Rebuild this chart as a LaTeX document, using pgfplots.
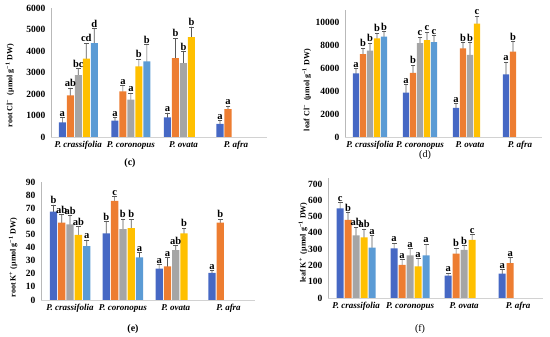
\documentclass[border=0pt]{standalone}
\usepackage{pgfplots}
\usepackage{pgfplotstable}
\pgfplotsset{compat=1.18}
\usepackage{fontspec}
\setmainfont{Liberation Serif}

\definecolor{s1}{HTML}{4668C4}
\definecolor{s2}{HTML}{ED7D31}
\definecolor{s3}{HTML}{A5A5A5}
\definecolor{s4}{HTML}{FFC000}
\definecolor{s5}{HTML}{5B9BD5}
\definecolor{errc}{HTML}{595959}

% one table per panel and series: group, value, error, top (value+error), letter
% ---- (c) root Cl-
\pgfplotstableread{
g y e t l
0 680 220 900 a
1 760 155 915 a
2 915 205 1120 a
3 605 155 760 a
}\cA
\pgfplotstableread{
g y e t l
0 1940 340 2280 ab
1 2120 280 2400 a
2 3670 930 4600 b
3 1300 130 1430 a
}\cB
\pgfplotstableread{
g y e t l
0 2880 310 3190 bc
1 1740 310 2050 a
2 3440 540 3980 b
}\cC
\pgfplotstableread{
g y e t l
0 3640 730 4370 cd
1 3290 330 3620 b
2 4640 480 5120 b
}\cD
\pgfplotstableread{
g y e t l
0 4370 670 5040 d
1 3520 770 4290 b
}\cE
% ---- (d) leaf Cl-
\pgfplotstableread{
g y e t l
0 5540 410 5950 a
1 3850 730 4580 a
2 2540 375 2915 a
3 5450 1080 6530 a
}\dA
\pgfplotstableread{
g y e t l
0 7200 530 7730 b
1 5570 670 6240 b
2 7700 520 8220 b
3 7430 880 8310 b
}\dB
\pgfplotstableread{
g y e t l
0 7520 640 8160 b
1 8160 530 8690 c
2 7140 1080 8220 b
}\dC
\pgfplotstableread{
g y e t l
0 8570 470 9040 b
1 8430 695 9125 c
2 9850 650 10500 c
}\dD
\pgfplotstableread{
g y e t l
0 8720 460 9180 b
1 8250 580 8830 c
}\dE
% ---- (e) root K+
\pgfplotstableread{
g y e t l
0 67.4 5.1 72.5 b
1 50.9 9.0 59.9 b
2 23.9 3.1 27.0 a
3 20.6 2.0 22.6 a
}\eA
\pgfplotstableread{
g y e t l
0 59.1 5.9 65.0 ab
1 75.6 3.3 78.9 c
2 25.7 6.7 32.4 a
3 59.1 2.6 61.7 b
}\eB
\pgfplotstableread{
g y e t l
0 57.6 6.7 64.3 ab
1 54.0 7.7 61.7 b
2 38.0 3.6 41.6 ab
}\eC
\pgfplotstableread{
g y e t l
0 49.6 6.4 56.0 ab
1 54.8 6.9 61.7 b
2 50.9 3.9 54.8 b
}\eD
\pgfplotstableread{
g y e t l
0 41.1 4.7 45.8 a
1 32.6 3.4 36.0 a
}\eE
% ---- (f) leaf K+
\pgfplotstableread{
g y e t l
0 551 37 588 c
1 304 33 337 a
2 137 16 153 a
3 149 27 176 a
}\fA
\pgfplotstableread{
g y e t l
0 480 44 524 b
1 204 31 235 a
2 273 33 306 b
3 214 35 249 a
}\fB
\pgfplotstableread{
g y e t l
0 384 51 435 ab
1 261 41 302 a
2 296 26 322 b
}\fC
\pgfplotstableread{
g y e t l
0 373 51 424 ab
1 194 47 241 a
2 357 31 388 c
}\fD
\pgfplotstableread{
g y e t l
0 310 72 382 a
1 261 70 331 a
}\fE

% #1 table, #2 colour, #3 shift (axis units), #4 bar width (axis units)
% error bar = thin dark bar up to value+error, hidden below the coloured bar,
% plus a cap mark at value+error that also carries the letter
\newcommand\ser[4]{%
  \addplot[ybar, bar width=0.7pt, bar shift=#3, fill=errc, draw=none]
    table[x=g, y=t] {#1};
  \addplot[ybar, bar width=#4, bar shift=#3, fill=#2, draw=none]
    table[x=g, y=y] {#1};
  \addplot[draw=none, mark=-, mark size=2.4pt,
    mark options={draw=errc, line width=0.7pt},
    nodes near coords, point meta=explicit symbolic,
    every node near coord/.append style={text=black, anchor=south, inner sep=0.8pt,
      font=\bfseries\fontsize{10.5}{10.5}\selectfont}]
    table[x expr=\thisrow{g}+(#3), y=t, meta=l] {#1};
}

\pgfplotsset{
  panel/.style={
    scale only axis, clip=false, enlargelimits=false,
    axis lines*=left,
    x axis line style={draw=gray!35, line width=0.6pt},
    y axis line style={draw=gray!55, line width=0.6pt},
    major tick length=0pt,
    ymin=0,
    scaled y ticks=false,
    xtick={0,1,2,3},
    xticklabels={P. crassifolia, P. coronopus, P. ovata, P. afra},
    xticklabel style={font=\bfseries\itshape\fontsize{9}{10}\selectfont, yshift=-1pt},
    yticklabel style={font=\bfseries\fontsize{9.5}{10}\selectfont, xshift=-2pt},
    /pgf/number format/assume math mode=true,
    /pgf/number format/set thousands separator={},
    ylabel style={font=\bfseries\fontsize{8}{9}\selectfont, anchor=center},
  },
}

\begin{document}
\begin{tikzpicture}
\useasboundingbox (0pt,0pt) rectangle (550pt,337pt);

% (c) root Cl-
\begin{axis}[panel, at={(51pt,200pt)}, anchor=south west,
  width=216pt, height=129pt, xmin=-0.52, xmax=3.59, ymax=6000,
  ytick={0,1000,...,6000},
  ylabel={root Cl\textsuperscript{−}\ \ (μmol g\textsuperscript{−1} DW)},
  ylabel style={at={(axis description cs:-0.19,0.40)}}]
\ser{\cA}{s1}{-0.304}{0.134}
\ser{\cB}{s2}{-0.152}{0.134}
\ser{\cC}{s3}{0}{0.134}
\ser{\cD}{s4}{0.152}{0.134}
\ser{\cE}{s5}{0.304}{0.134}
\end{axis}

% (d) leaf Cl-
\begin{axis}[panel, at={(345pt,200pt)}, anchor=south west,
  width=197pt, height=126.5pt, xmin=-0.5, xmax=3.44, ymax=11000,
  ytick={0,2000,...,10000},
  ylabel={leaf Cl\textsuperscript{−}\ \ (μmol g\textsuperscript{−1} DW)},
  ylabel style={at={(axis description cs:-0.194,0.37)}}]
\ser{\dA}{s1}{-0.28}{0.123}
\ser{\dB}{s2}{-0.14}{0.123}
\ser{\dC}{s3}{0}{0.123}
\ser{\dD}{s4}{0.14}{0.123}
\ser{\dE}{s5}{0.28}{0.123}
\end{axis}

% (e) root K+
\begin{axis}[panel, at={(41pt,37pt)}, anchor=south west,
  width=214pt, height=118pt, xmin=-0.55, xmax=3.5, ymax=90,
  ytick={0,10,...,90},
  ylabel={root K\textsuperscript{+}\ (μmol g\textsuperscript{−1} DW)},
  ylabel style={at={(axis description cs:-0.13,0.36)}}]
\ser{\eA}{s1}{-0.314}{0.138}
\ser{\eB}{s2}{-0.157}{0.138}
\ser{\eC}{s3}{0}{0.138}
\ser{\eD}{s4}{0.157}{0.138}
\ser{\eE}{s5}{0.314}{0.138}
\end{axis}

% (f) leaf K+
\begin{axis}[panel, at={(328pt,39pt)}, anchor=south west,
  width=215pt, height=120.5pt, xmin=-0.52, xmax=3.46, ymax=740,
  ytick={0,100,...,700},
  ylabel={leaf K\textsuperscript{+}\ \ (μmol g\textsuperscript{−1} DW)},
  ylabel style={at={(axis description cs:-0.116,0.46)}}]
\ser{\fA}{s1}{-0.296}{0.13}
\ser{\fB}{s2}{-0.148}{0.13}
\ser{\fC}{s3}{0}{0.13}
\ser{\fD}{s4}{0.148}{0.13}
\ser{\fE}{s5}{0.296}{0.13}
\end{axis}

\node[font=\bfseries\fontsize{10}{12}\selectfont] at (130pt,174pt) {(c)};
\node[font=\fontsize{10}{12}\selectfont] at (425pt,182pt) {(d)};
\node[font=\bfseries\fontsize{10}{12}\selectfont] at (133pt,8pt) {(e)};
\node[font=\fontsize{10}{12}\selectfont] at (420pt,8pt) {(f)};
\end{tikzpicture}
\end{document}
